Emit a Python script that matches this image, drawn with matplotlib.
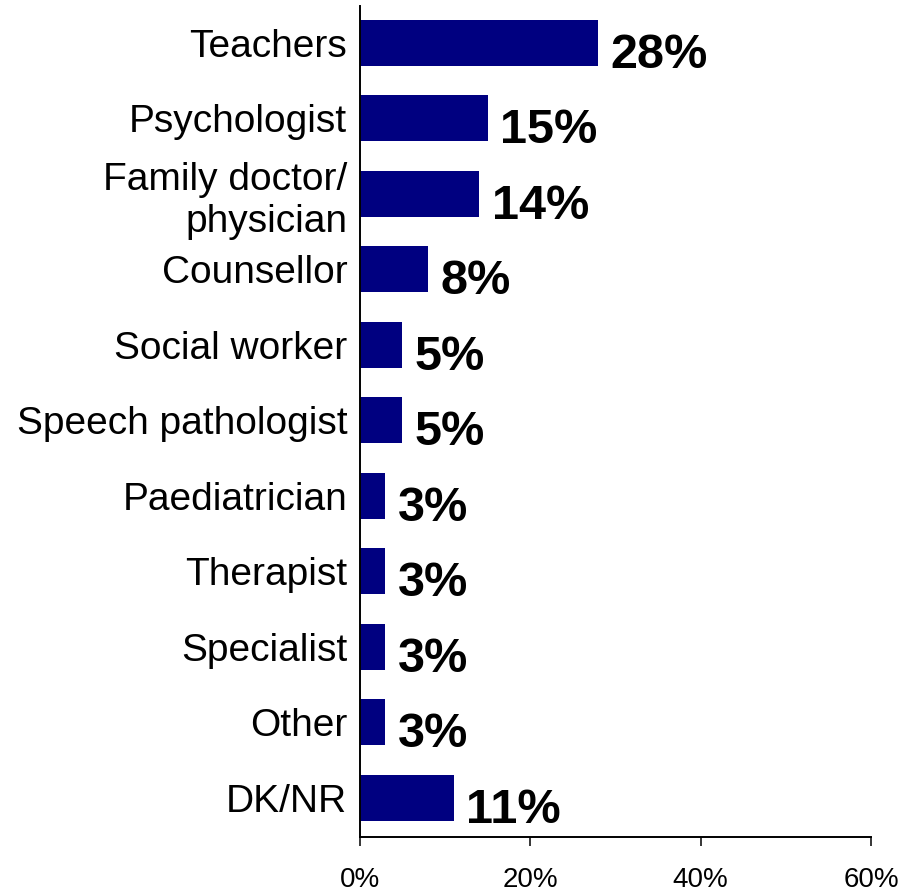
import matplotlib
matplotlib.use('Agg')
from matplotlib import pyplot as plt

# categories, top to bottom
categories = ['Teachers', 'Psychologist', 'Family doctor/\nphysician', 'Counsellor',
              'Social worker', 'Speech pathologist', 'Paediatrician', 'Therapist',
              'Specialist', 'Other', 'DK/NR']
values = [28, 15, 14, 8, 5, 5, 3, 3, 3, 3, 11]
xticks = [0, 20, 40, 60]
xtick_labels = ['0%', '20%', '40%', '60%']

plt.rcParams['font.family'] = ['Liberation Sans', 'DejaVu Sans']

fig = plt.figure(figsize=(9.04, 8.92), dpi=100)
ax = fig.add_axes([0.398, 0.0616, 0.5655, 0.9317])

ypos = list(range(len(categories)))
ax.barh(ypos, values, height=0.61, color='#000080', zorder=2)

# value labels to the right of the bars
for y, v in zip(ypos, values):
    ax.annotate(f'{v}%', xy=(v, y), xytext=(9, -18), textcoords='offset points',
                ha='left', va='baseline', fontsize=35, fontweight='bold', color='black')

ax.set_xlim(0, 60)
ax.set_ylim(10.52, -0.49)
ax.set_xticks(xticks)
ax.set_xticklabels(xtick_labels, fontsize=20)
ax.set_yticks(ypos)
ax.set_yticklabels(categories, fontsize=28, linespacing=1.2)

ax.tick_params(axis='x', direction='out', length=6.5, width=1.1, pad=15)
ax.tick_params(axis='y', length=0, pad=9)

for side in ['top', 'right']:
    ax.spines[side].set_visible(False)
for side in ['left', 'bottom']:
    ax.spines[side].set_linewidth(1.4)

plt.savefig('out.png', dpi=100)
